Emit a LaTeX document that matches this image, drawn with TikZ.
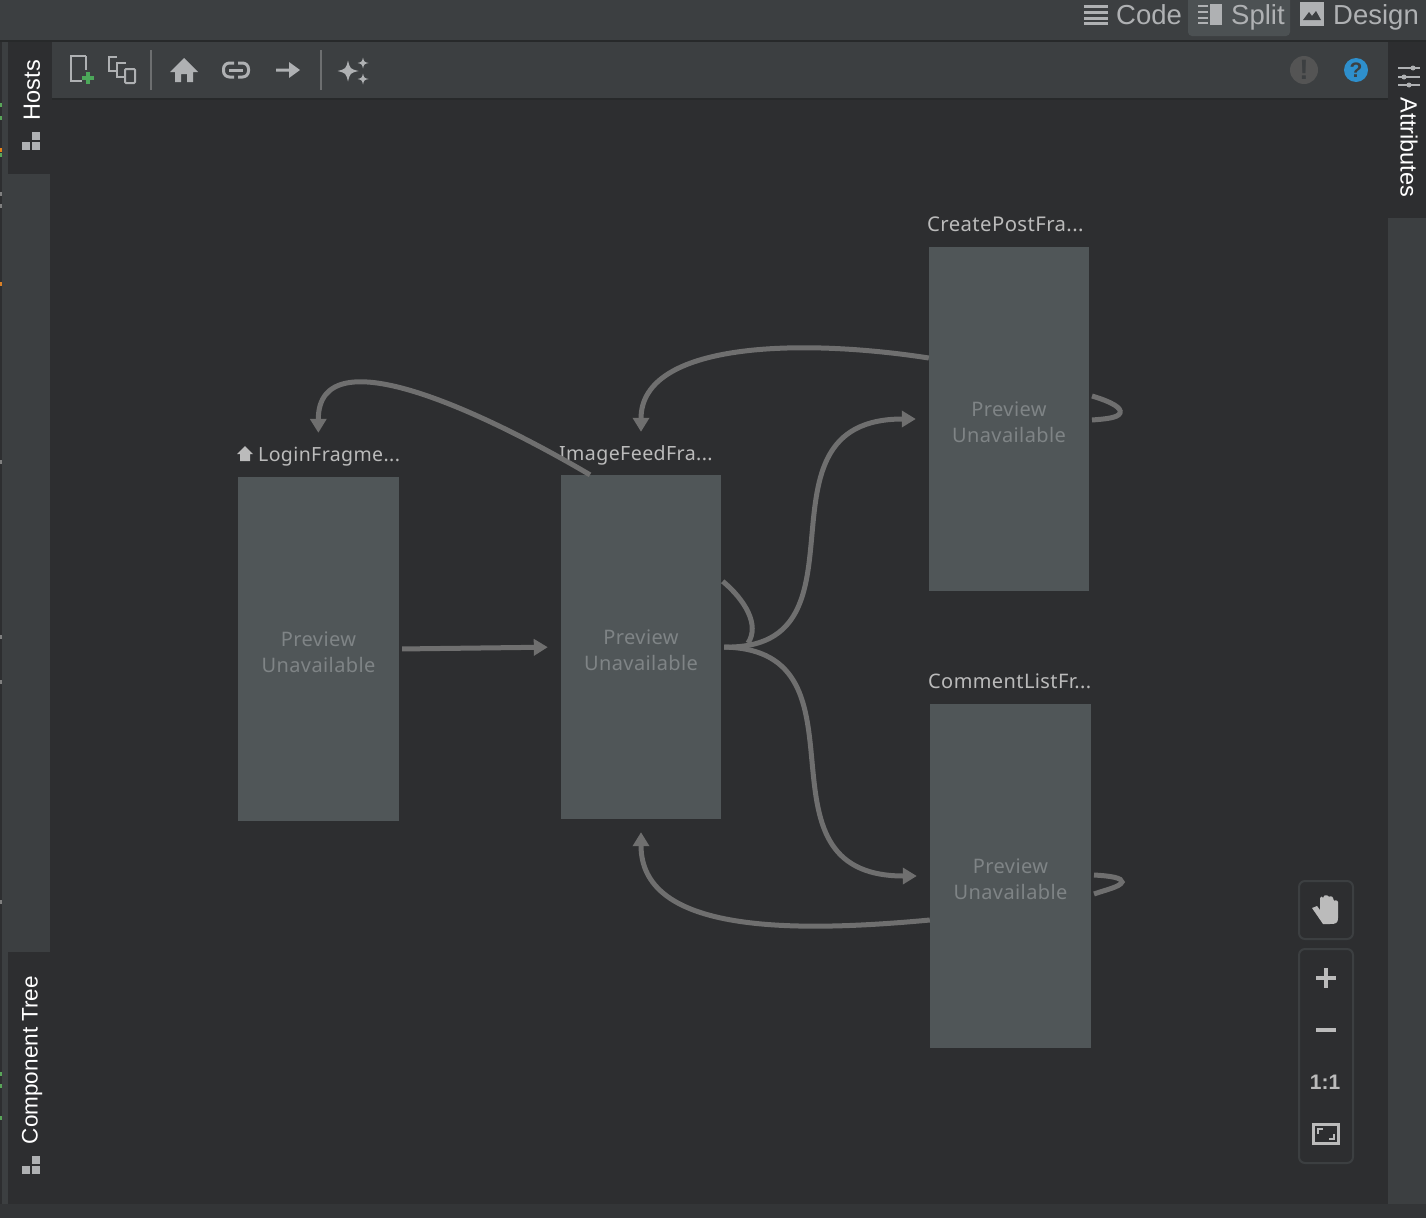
\documentclass[tikz,border=0pt]{standalone}
\usepackage{fontspec}
\setmainfont{Liberation Sans}
\newfontfamily\labelfont[LetterSpace=2]{Noto Sans}
\usetikzlibrary{arrows.meta}

\definecolor{canvasbg}{HTML}{2D2E30}
\definecolor{panelbg}{HTML}{3C3F41}
\definecolor{statusbg}{HTML}{333537}
\definecolor{screenbg}{HTML}{505658}
\definecolor{edgegray}{HTML}{6F6F6F}
\definecolor{icongray}{HTML}{AFB1B3}
\definecolor{labelgray}{HTML}{BBBBBB}
\definecolor{previewgray}{HTML}{7F8486}
\definecolor{addgreen}{HTML}{4CA85A}
\definecolor{helpblue}{HTML}{2E8FCC}

\newcommand{\previewtext}{\rule{0pt}{21pt}Preview\\Unavailable}

\tikzset{
    screen/.style={draw=none, fill=screenbg, minimum width=161, minimum height=344, inner sep=0,
        align=center, text=previewgray, font=\labelfont\fontsize{20}{26}\selectfont},
    screenlabel/.style={inner sep=0, anchor=base west, text=labelgray, font=\labelfont\fontsize{#1}{24}\selectfont},
    screenlabel/.default=20,
    edge/.style={draw=edgegray, line width=5, -{Triangle[length=14,width=16]}},
    selfedge/.style={draw=edgegray, line width=5},
    tablabel/.style={inner sep=0, text=white, font=\fontsize{23.5}{26}\selectfont},
    modelabel/.style={inner sep=0, anchor=base west, text=icongray, font=\fontsize{27.5}{30}\selectfont},
    tool/.style={fill=icongray, draw=none},
    outline/.style={draw=icongray, line width=2},
    zoombox/.style={draw=panelbg, line width=2, rounded corners=6, fill=canvasbg}
}

\begin{document}
\begin{tikzpicture}[x=1pt, y=-1pt]
    \useasboundingbox (0,0) rectangle (1426,1218);

    % window panels
    \fill[panelbg] (0,0) rectangle (1426,1218);
    \fill[canvasbg] (50,42) rectangle (1388,1204);
    \fill[panelbg] (52,42) rectangle (1388,98);
    \fill[black!35!panelbg] (0,40) rectangle (1426,42);
    \fill[black!35!panelbg] (52,98) rectangle (1388,100);
    \fill[statusbg] (0,1204) rectangle (1426,1218);
    \fill[canvasbg] (0,42) rectangle (2,1204);
    \fill[canvasbg] (8,42) rectangle (50,174);
    \fill[canvasbg] (8,952) rectangle (50,1204);
    \fill[canvasbg] (1388,42) rectangle (1426,218);
    % gutter marks
    \foreach \y/\c in {103/green!30!gray, 116/green!30!gray, 148/orange!80!gray, 153/green!30!gray, 192/gray, 204/gray,
        282/orange!70!gray, 460/gray, 635/gray, 680/gray, 900/gray, 1072/green!30!gray, 1084/green!30!gray, 1116/green!30!gray}
        \fill[\c] (0,\y) rectangle (2,\y+4);

    % mode switch
    \fill[screenbg!80!panelbg, rounded corners=4] (1188,-6) rectangle (1290,36);
    \foreach \y in {6,12,18,23}
        \fill[icongray] (1084,\y-1.5) rectangle (1108,\y+1.5);
    \foreach \y in {6,12,18,23}
        \fill[icongray] (1198,\y-1) rectangle (1208,\y+1);
    \fill[icongray] (1210,4) rectangle (1222,25);
    \fill[icongray] (1300,2) rectangle (1324,26);
    \fill[panelbg] (1303,20) -- (1309,12) -- (1312,16) -- (1316,11) -- (1321,20) -- cycle;
    \node[modelabel] (codemode) at (1116,24) {Code};
    \node[modelabel] (splitmode) at (1231,24) {Split};
    \node[modelabel] (designmode) at (1333,24) {Design};

    % toolbar
    \draw[outline] (86,56) -- (71,56) -- (71,81) -- (82,81);
    \draw[outline] (86,56) -- (86,70);
    \fill[addgreen] (82,76) rectangle (94,80);
    \fill[addgreen] (86,72) rectangle (90,84);
    \draw[outline] (117,57) -- (109,57) -- (109,71) -- (116,71);
    \draw[outline] (126,63) -- (117,63) -- (117,77) -- (124,77);
    \draw[outline, rounded corners=1] (125,69) rectangle (135,83);
    \fill[panelbg!75!white] (150,50) rectangle (152,90);
    \fill[panelbg!75!white] (320,50) rectangle (322,90);
    \fill[tool] (184,58) -- (198,72) -- (193,72) -- (193,82) -- (187,82) -- (187,74) -- (181,74)
        -- (181,82) -- (175,82) -- (175,72) -- (170,72) -- cycle;
    \draw[icongray, line width=3, rounded corners=6] (234,63) -- (223.5,63) -- (223.5,77) -- (234,77);
    \draw[icongray, line width=3, rounded corners=6] (238,63) -- (248.5,63) -- (248.5,77) -- (238,77);
    \draw[icongray, line width=3] (229,70) -- (243,70);
    \fill[tool] (276,68.5) -- (289,68.5) -- (289,62) -- (300,70) -- (289,78) -- (289,71.5) -- (276,71.5) -- cycle;
    \foreach \px/\py/\r in {348/71/10.5, 363/63/5.5, 363/79/5.5}
        \fill[tool] (\px-\r,\py) .. controls (\px-.2*\r,\py-.2*\r) .. (\px,\py-\r)
            .. controls (\px+.2*\r,\py-.2*\r) .. (\px+\r,\py)
            .. controls (\px+.2*\r,\py+.2*\r) .. (\px,\py+\r)
            .. controls (\px-.2*\r,\py+.2*\r) .. cycle;
    \node[circle, fill=white!33!black, minimum size=28, inner sep=0, text=panelbg,
        font=\bfseries\fontsize{28}{28}\selectfont] (warning) at (1304,70) {!};
    \node[circle, fill=helpblue, minimum size=24, inner sep=0, text=panelbg,
        font=\bfseries\fontsize{21}{21}\selectfont] (help) at (1356,70) {?};

    % side tabs
    \node[tablabel, rotate=90] (hoststab) at (32,90) {Hosts};
    \node[tablabel, rotate=90, font=\fontsize{22.5}{26}\selectfont] (treetab) at (32,1060) {Component Tree};
    \node[tablabel, rotate=-90] (attrtab) at (1409,147.5) {Attributes};
    \foreach \oy in {132,1156} {
        \fill[icongray] (32,\oy) rectangle (40,\oy+8);
        \fill[icongray] (22,\oy+10) rectangle (30,\oy+18);
        \fill[icongray] (32,\oy+10) rectangle (40,\oy+18);
    }
    \foreach \y/\px in {68/1413, 77/1404, 85/1409} {
        \fill[icongray] (1398,\y-.7) rectangle (1420,\y+.7);
        \fill[icongray] (\px,\y) circle (2.5);
    }

    % zoom controls
    \draw[zoombox] (1299,881) rectangle (1353,939);
    \draw[zoombox] (1299,949) rectangle (1353,1163);
    \fill[labelgray] (1312,908) -- (1317,906) -- (1320,910) -- (1320,898) .. controls (1320,896) and (1323,896) .. (1323,898)
        -- (1324,896) .. controls (1324,895) and (1328,895) .. (1328,896) -- (1329,897) .. controls (1329,896) and (1333,896) .. (1333,898)
        -- (1334,901) .. controls (1334,900) and (1338,900) .. (1338,902) -- (1338,918) .. controls (1338,923) and (1336,924) .. (1330,924)
        -- (1323,924) -- cycle;
    \fill[labelgray] (1316,976) rectangle (1336,980);
    \fill[labelgray] (1324,968) rectangle (1328,988);
    \fill[labelgray] (1316,1028) rectangle (1336,1032);
    \node[inner sep=0, text=labelgray, font=\bfseries\fontsize{21}{21}\selectfont] (actualsize) at (1325,1082) {1:1};
    \draw[labelgray, line width=3] (1313.5,1124.5) rectangle (1338.5,1143.5);
    \draw[labelgray, line width=2] (1318,1134) -- (1318,1129) -- (1323,1129);
    \draw[labelgray, line width=2] (1334,1134) -- (1334,1139) -- (1329,1139);

    % destinations
    \node[screen] (login) at (318.5,649) {\previewtext};
    \node[screen, minimum width=160] (feed) at (641,647) {\previewtext};
    \node[screen, minimum width=160] (create) at (1009,419) {\previewtext};
    \node[screen] (comment) at (1010.5,876) {\previewtext};

    \node[screenlabel=19.5] (loginlabel) at (258,461) {LoginFragme...};
    \node[screenlabel=19.6] (feedlabel) at (559,460) {ImageFeedFra...};
    \node[screenlabel=20.3] (createlabel) at (927,231) {CreatePostFra...};
    \node[screenlabel] (commentlabel) at (928,688) {CommentListFr...};
    \fill[labelgray] (245,446) -- (253,454) -- (250,454) -- (250,461) -- (240,461) -- (240,454) -- (237,454) -- cycle;

    % actions
    \draw[edge, shorten <=3, shorten >=13] (login.east) -- (feed.west);
    \draw[edge, shorten <=3, shorten >=13] (feed.east) .. controls (880,650) and (743,419) .. (create.west);
    \draw[edge, shorten <=3, shorten >=13] (feed.east) .. controls (880,650) and (743,876) .. (comment.west);
    \draw[selfedge, shorten <=2] (feed.east |- 0,580) .. controls (745,600) and (760,625) .. (748,643);
    \draw[edge, shorten >=43] (create.west |- 0,358) .. controls (800,338) and (641,342) .. (feed.north);
    \draw[edge, shorten >=13] (comment.west |- 0,920) .. controls (780,934) and (641,930) .. (feed.south);
    \draw[edge, shorten >=44] (feed.north -| 590,0) .. controls (490,416) and (318,332) .. (login.north);
    \draw[selfedge] (1092,396) .. controls (1112,402) and (1122,408) .. (1120,413) .. controls (1118,418) and (1105,419) .. (1092,420);
    \draw[selfedge] (1094,875) .. controls (1112,876) and (1122,878) .. (1122,882) .. controls (1120,887) and (1105,890) .. (1094,894);
\end{tikzpicture}
\end{document}
